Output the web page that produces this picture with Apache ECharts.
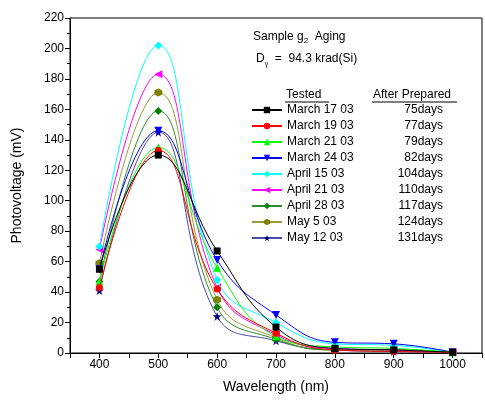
<!DOCTYPE html>
<html>
<head>
<meta charset="utf-8">
<script src="https://cdn.jsdelivr.net/npm/echarts@6/dist/echarts.min.js"></script>
<style>
  html, body { margin: 0; padding: 0; background: #fff; }
  #chart { width: 485px; height: 404px; }
</style>
</head>
<body>
<div id="chart"></div>
<script>
// wavelength (nm)
const wavelengths = [400, 500, 600, 700, 800, 900, 1000]
const xTicks = [400, 500, 600, 700, 800, 900, 1000]
const yTicks = [0, 20, 40, 60, 80, 100, 120, 140, 160, 180, 200, 220]

const tested = ['March 17 03', 'March 19 03', 'March 21 03', 'March 24 03', 'April 15 03',
  'April 21 03', 'April 28 03', 'May 5 03', 'May 12 03']
const daysAfter = ['75days', '77days', '79days', '82days', '104days', '110days', '117days', '124days', '131days']

// photovoltage (mV) per test date
const mar17 = [55, 130, 67, 17, 3, 2, 0.5]
const mar19 = [43, 133, 42, 13, 2, 1, 0.5]
const mar21 = [47, 135, 56, 11, 4, 3, 0.5]
const mar24 = [55, 146, 61, 25, 7, 6, 0.5]
const apr15 = [70, 202, 48, 20, 6, 5, 0.5]
const apr21 = [68, 183, 43, 12, 3, 2, 0.5]
const apr28 = [47, 159, 30, 9, 2, 2, 0.5]
const may5 = [59, 171, 35, 10, 2, 2, 0.5]
const may12 = [41, 145, 24, 8, 2, 1, 0.5]
const values = [mar17, mar19, mar21, mar24, apr15, apr21, apr28, may5, may12]

const colors = ['#000000', '#ff0000', '#00ff00', '#0000ff', '#00ffff', '#ff00ff', '#008000', '#808000', '#000080']
const lineColors = ['#000000', '#ff0000', '#00ff00', '#0000ff', '#00ffff', '#ff00ff', '#2e8b2e', '#9a9a3a', '#4b4ba8']
const symbols = [
  'rect',
  'circle',
  'triangle',
  'path://M0,0 L10,0 L5,10 Z',
  'diamond',
  'path://M10,0 L10,10 L0,5 Z',
  'diamond',
  'path://M5,0 L9.3,2.5 L9.3,7.5 L5,10 L0.7,7.5 L0.7,2.5 Z',
  'path://M5,0 L6.2,3.6 L10,3.6 L6.9,5.9 L8.1,9.5 L5,7.3 L1.9,9.5 L3.1,5.9 L0,3.6 L3.8,3.6 Z'
]
const sizes = [7, 7, 8, 8, 8, 8, 8, 8, 9]

const chart = echarts.init(document.getElementById('chart'))

const series = tested.map((name, i) => ({
  name,
  type: 'line',
  smooth: 0.45,
  symbol: symbols[i],
  symbolSize: sizes[i],
  itemStyle: { color: colors[i] },
  lineStyle: { color: lineColors[i], width: 1 },
  data: wavelengths.map((w, k) => [w, values[i][k]]),
  z: 10 - i
}))

const option = {
  animation: false,
  textStyle: { fontFamily: 'Liberation Sans, Arial, sans-serif' },
  grid: { left: 70, top: 18, right: 2, bottom: 51, show: true, borderColor: '#000', borderWidth: 1 },
  xAxis: {
    type: 'value',
    min: 350,
    max: 1050,
    interval: 50,
    name: 'Wavelength (nm)',
    nameLocation: 'middle',
    nameGap: 27,
    nameTextStyle: { fontSize: 14, color: '#000' },
    axisLine: { lineStyle: { color: '#000' } },
    axisTick: { show: true, length: 5, lineStyle: { color: '#000' } },
    axisLabel: {
      color: '#000', fontSize: 12, margin: 6,
      formatter: v => xTicks.includes(v) ? String(v) : ''
    },
    splitLine: { show: false }
  },
  yAxis: {
    type: 'value',
    min: 0,
    max: 220,
    interval: 20,
    name: 'Photovoltage (mV)',
    nameLocation: 'middle',
    nameGap: 46,
    nameTextStyle: { fontSize: 14, color: '#000' },
    axisLine: { show: true, lineStyle: { color: '#000' } },
    axisTick: { show: true, length: 5, lineStyle: { color: '#000' } },
    minorTick: { show: true, splitNumber: 2, length: 3, lineStyle: { color: '#000' } },
    axisLabel: {
      color: '#000', fontSize: 12, margin: 6,
      formatter: v => yTicks.includes(v) ? String(v) : ''
    },
    splitLine: { show: false }
  },
  legend: {
    orient: 'vertical',
    left: 251,
    top: 104,
    padding: 0,
    itemWidth: 30,
    itemHeight: 8,
    itemGap: 4,
    data: tested,
    textStyle: {
      color: '#000',
      fontSize: 12,
      rich: {
        n: { width: 98, fontSize: 12, color: '#000' },
        d: { width: 58, align: 'right', fontSize: 12, color: '#000' }
      }
    },
    formatter: name => `{n|${name}}{d|${daysAfter[tested.indexOf(name)]}}`
  },
  graphic: [
    {
      type: 'text', left: 253, top: 31,
      style: {
        text: 'Sample g{s|2}  Aging',
        font: '12px Liberation Sans, Arial, sans-serif',
        fill: '#000',
        rich: { s: { fontSize: 8, padding: [8, 0, 0, 0] } }
      }
    },
    {
      type: 'text', left: 256, top: 53,
      style: {
        text: 'D{s|\u03b3}  =  94.3 krad(Si)',
        font: '12px Liberation Sans, Arial, sans-serif',
        fill: '#000',
        rich: { s: { fontSize: 7, padding: [10, 0, 0, 0] } }
      }
    },
    {
      type: 'text', left: 286, top: 89,
      style: { text: 'Tested', font: '12px Liberation Sans, Arial, sans-serif', fill: '#000' }
    },
    {
      type: 'line', shape: { x1: 285, y1: 102, x2: 329, y2: 102 }, style: { stroke: '#000', lineWidth: 1 }
    },
    {
      type: 'text', left: 373, top: 89,
      style: { text: 'After Prepared', font: '12px Liberation Sans, Arial, sans-serif', fill: '#000' }
    },
    {
      type: 'line', shape: { x1: 372, y1: 102, x2: 457, y2: 102 }, style: { stroke: '#000', lineWidth: 1 }
    }
  ],
  series
}

chart.setOption(option)
</script>
</body>
</html>
